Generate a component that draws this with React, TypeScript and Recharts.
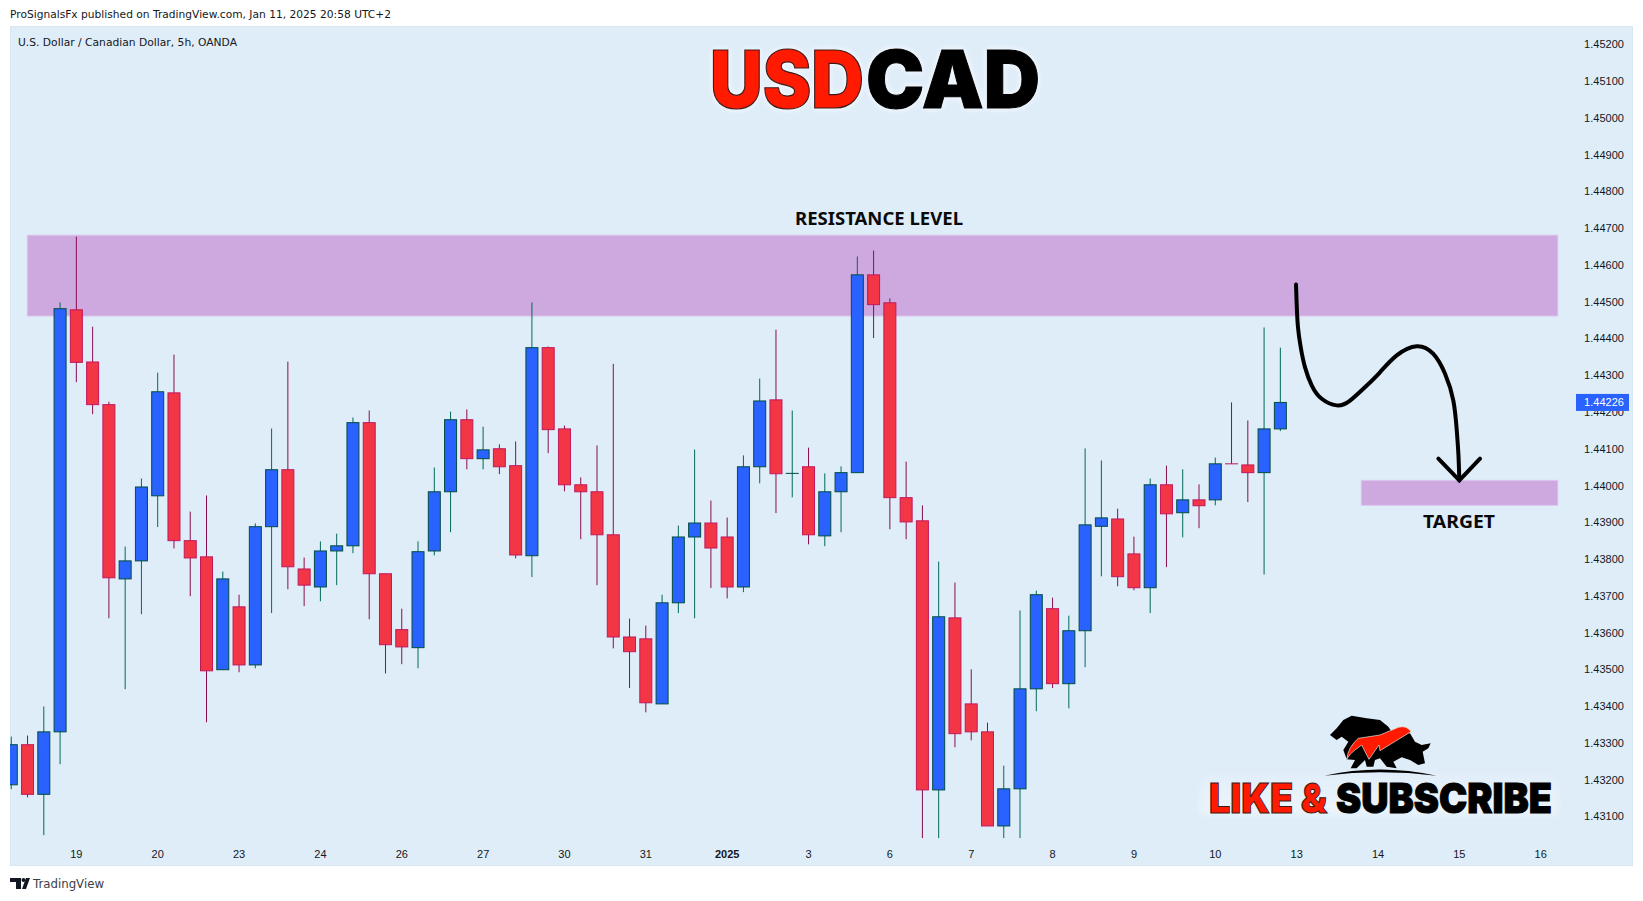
import React from 'react';
import { ComposedChart, Bar, Line, XAxis, YAxis, ReferenceArea } from 'recharts';

const opens = [
  1.43186, 1.43295, 1.4316, 1.4333, 1.44478, 1.44336, 1.4422, 1.43746, 1.43795, 1.43972,
  1.44252, 1.4385, 1.43806, 1.43499, 1.4367, 1.43512, 1.43888, 1.44043, 1.43773, 1.43724,
  1.43822, 1.43836, 1.44171, 1.4376, 1.43608, 1.43559, 1.43822, 1.43983, 1.44179, 1.44073,
  1.441, 1.44054, 1.43809, 1.44375, 1.44154, 1.44002, 1.43983, 1.43866, 1.43588, 1.43583,
  1.43406, 1.43681, 1.4386, 1.43898, 1.4386, 1.43724, 1.44051, 1.44233, 1.44032, 1.44051,
  1.43863, 1.43983, 1.44035, 1.44573, 1.44497, 1.43967, 1.43904, 1.43172, 1.4364, 1.43406,
  1.4333, 1.43074, 1.43175, 1.43447, 1.43665, 1.43461, 1.43605, 1.43889, 1.43909, 1.43814,
  1.43722, 1.44002, 1.43926, 1.43961, 1.43961, 1.44059, 1.44056, 1.44035, 1.44154,
];
const highs = [
  1.43317, 1.4332, 1.43399, 1.44498, 1.44677, 1.44432, 1.44228, 1.43834, 1.44019, 1.44307,
  1.44356, 1.43929, 1.43973, 1.43766, 1.43703, 1.43897, 1.44155, 1.44337, 1.43804, 1.43848,
  1.43869, 1.44185, 1.44204, 1.4376, 1.43665, 1.43848, 1.44049, 1.44201, 1.44207, 1.4416,
  1.44112, 1.4412, 1.44498, 1.44378, 1.44163, 1.44022, 1.44109, 1.44331, 1.43638, 1.43619,
  1.43703, 1.43891, 1.44098, 1.43959, 1.43913, 1.44082, 1.44291, 1.44424, 1.44204, 1.44103,
  1.44033, 1.44052, 1.44623, 1.44639, 1.44509, 1.44065, 1.43946, 1.43793, 1.43736, 1.435,
  1.43355, 1.43238, 1.4366, 1.43714, 1.43695, 1.43646, 1.44101, 1.44068, 1.43937, 1.43861,
  1.44019, 1.44054, 1.44044, 1.44003, 1.44076, 1.44226, 1.44177, 1.4443, 1.44375,
];
const lows = [
  1.43174, 1.43152, 1.43049, 1.43242, 1.44281, 1.44194, 1.43639, 1.43446, 1.4365, 1.43887,
  1.43829, 1.43699, 1.43356, 1.43499, 1.43492, 1.43503, 1.43653, 1.43718, 1.43672, 1.43685,
  1.43729, 1.43816, 1.43636, 1.43489, 1.43514, 1.43503, 1.4381, 1.43873, 1.44044, 1.44044,
  1.44031, 1.43802, 1.43751, 1.44088, 1.43984, 1.43854, 1.43729, 1.43557, 1.43449, 1.43383,
  1.43406, 1.43653, 1.43639, 1.43721, 1.43693, 1.4371, 1.44006, 1.43925, 1.43968, 1.4384,
  1.43835, 1.43873, 1.44035, 1.44401, 1.43881, 1.43854, 1.43041, 1.43041, 1.43288, 1.43307,
  1.43074, 1.43041, 1.43041, 1.43386, 1.43449, 1.43394, 1.43506, 1.43753, 1.43726, 1.43715,
  1.43653, 1.43778, 1.43859, 1.43884, 1.43946, 1.44059, 1.43955, 1.43758, 1.44148,
];
const closes = [
  1.43295, 1.4316, 1.4333, 1.44481, 1.44335, 1.4422, 1.43749, 1.43795, 1.43996, 1.44255,
  1.4385, 1.43803, 1.43496, 1.43746, 1.43512, 1.43888, 1.44043, 1.43779, 1.43729, 1.43822,
  1.43836, 1.44171, 1.4376, 1.43567, 1.43561, 1.4382, 1.43983, 1.44179, 1.44073, 1.44097,
  1.44051, 1.43811, 1.44375, 1.44152, 1.44002, 1.43983, 1.43866, 1.43588, 1.43548, 1.43409,
  1.43681, 1.4386, 1.43898, 1.4383, 1.43724, 1.44051, 1.4423, 1.44032, 1.44033, 1.43866,
  1.43983, 1.44035, 1.44573, 1.44492, 1.43967, 1.43901, 1.43172, 1.43643, 1.43325, 1.4333,
  1.43074, 1.43175, 1.43447, 1.43703, 1.43461, 1.43605, 1.43893, 1.43912, 1.43752, 1.43722,
  1.44002, 1.43923, 1.43961, 1.43945, 1.44059, 1.44059, 1.44035, 1.44154, 1.44226,
];

const lastPrice = 1.44226;
const priceTicks = [
  1.431, 1.432, 1.433, 1.434, 1.435, 1.436, 1.437, 1.438, 1.439, 1.44, 1.441,
  1.442, 1.443, 1.444, 1.445, 1.446, 1.447, 1.448, 1.449, 1.45, 1.451, 1.452, lastPrice,
];
const timeTicks = [4, 9, 14, 19, 24, 29, 34, 39, 44, 49, 54, 59, 64, 69, 74, 79, 84, 89, 94];
const timeLabels = ['19', '20', '23', '24', '26', '27', '30', '31', '2025', '3', '6', '7', '8', '9', '10', '13', '14', '15', '16'];

const resistanceZone = { from: 0.98, to: 95.05, top: 1.44681, bottom: 1.44461 };
const targetZone = { from: 82.97, to: 95.05, top: 1.44014, bottom: 1.43946 };

// hand drawn path
const sketchBars = [78.96, 79.0, 79.08, 79.25, 79.51, 79.93, 80.54, 81.46, 82.28, 83.31, 84.12, 85.15, 86.38, 87.4, 88.12, 88.63, 88.84, 88.94, 89.0];
const sketchPrices = [1.44547, 1.44494, 1.44431, 1.44376, 1.44322, 1.44272, 1.44236, 1.44218, 1.44231, 1.44272, 1.44308, 1.44354, 1.44379, 1.44358, 1.44304, 1.44231, 1.4415, 1.44086, 1.44014];
const headBars = [87.71, 89.0, 90.27];
const headPrices = [1.44073, 1.44014, 1.44073];

const candles = opens.map((open, i) => ({
  i,
  open,
  high: highs[i],
  low: lows[i],
  close: closes[i],
  range: [lows[i], highs[i]],
}));
const sketch = sketchBars.map((i, n) => ({ i, price: sketchPrices[n] }));
const arrowHead = headBars.map((i, n) => ({ i, price: headPrices[n] }));

const AXIS_FONT = '"Liberation Sans", Arial, sans-serif';
const BODY_WIDTH = 12;

const Candle = (props: any) => {
  const { x, y, width, height, payload } = props;
  const { open, close, high, low } = payload;
  const perUnit = height / (high - low);
  const up = close > open;
  const top = y + (high - Math.max(open, close)) * perUnit;
  const bottom = y + (high - Math.min(open, close)) * perUnit;
  const mid = x + width / 2;
  const wick = up ? '#00695c' : '#880e4f';
  const border = up ? '#004d40' : '#c2185b';
  const fill = up ? '#2962ff' : '#f23645';
  return (
    <g>
      <line x1={mid} x2={mid} y1={y} y2={y + height} stroke={wick} strokeWidth={1} />
      {bottom - top < 1 ? (
        <line x1={mid - 6.5} x2={mid + 6.5} y1={top} y2={top} stroke={border} strokeWidth={1} />
      ) : (
        <rect x={mid - BODY_WIDTH / 2} y={top} width={BODY_WIDTH} height={bottom - top} fill={fill} stroke={border} strokeWidth={1} />
      )}
    </g>
  );
};

const PriceTick = (props: any) => {
  const { x, y, payload } = props;
  const value = payload.value;
  if (value === lastPrice) {
    return (
      <g>
        <rect x={x - 2} y={y - 8.5} width={53} height={17} fill="#2962ff" />
        <text x={x + 26} y={y + 4} textAnchor="middle" fontFamily={AXIS_FONT} fontSize={11} fill="#ffffff">
          {value.toFixed(5)}
        </text>
      </g>
    );
  }
  return (
    <text x={x + 26} y={y + 4} textAnchor="middle" fontFamily={AXIS_FONT} fontSize={11} fill="#131722">
      {value.toFixed(5)}
    </text>
  );
};

const TimeTick = (props: any) => {
  const { x, y, payload } = props;
  const label = timeLabels[timeTicks.indexOf(payload.value)];
  return (
    <text
      x={x}
      y={y + 10}
      textAnchor="middle"
      fontFamily={AXIS_FONT}
      fontSize={11}
      fontWeight={label === '2025' ? 700 : 400}
      fill="#131722"
    >
      {label}
    </text>
  );
};

const Overlay = () => (
  <svg width={1643} height={901} style={{ position: 'absolute', left: 0, top: 0, pointerEvents: 'none' }}>
    <defs>
      <linearGradient id="logoGlow" x1="0" y1="0" x2="0" y2="1">
        <stop offset="0" stopColor="#ffffff" stopOpacity={0} />
        <stop offset="1" stopColor="#ffffff" stopOpacity={0.5} />
      </linearGradient>
    </defs>
    <text x={10} y={18} fontFamily='"DejaVu Sans", sans-serif' fontSize={11} fill="#131722" textLength={381} lengthAdjust="spacingAndGlyphs">
      ProSignalsFx published on TradingView.com, Jan 11, 2025 20:58 UTC+2
    </text>
    <text x={18} y={46} fontFamily='"DejaVu Sans", sans-serif' fontSize={10.5} fill="#131722" textLength={219} lengthAdjust="spacingAndGlyphs">
      U.S. Dollar / Canadian Dollar, 5h, OANDA
    </text>
    <g style={{ filter: 'drop-shadow(0 0 3px #ffffff)' }}>
      <text x={710} y={108} fontFamily='Inter, "Liberation Sans", sans-serif' fontWeight={900} fontSize={80} fill="#ff1a00" stroke="#3a1a1a" strokeWidth={1.2} textLength={154} lengthAdjust="spacingAndGlyphs">
        USD
      </text>
      <text x={866} y={108} fontFamily='Inter, "Liberation Sans", sans-serif' fontWeight={900} fontSize={80} fill="#000000" stroke="#000000" strokeWidth={1} textLength={174} lengthAdjust="spacingAndGlyphs">
        CAD
      </text>
    </g>
    <text x={795} y={225} fontFamily='"Noto Sans", sans-serif' fontWeight={700} fontSize={18} fill="#0a0a0a" textLength={168} lengthAdjust="spacingAndGlyphs">
      RESISTANCE LEVEL
    </text>
    <text x={1423} y={528} fontFamily='"Noto Sans", sans-serif' fontWeight={700} fontSize={18} fill="#0a0a0a" textLength={72} lengthAdjust="spacingAndGlyphs">
      TARGET
    </text>
    <rect x={1200} y={768} width={358} height={46} fill="url(#logoGlow)" style={{ filter: 'blur(4px)' }} />
    <g transform="translate(1180 700) scale(0.33333)">
      <path
        d="M450 105 L470 85 L490 60 L515 47 L560 55 L600 60 L625 80 L635 95 L690 100 L705 125 L725 135 L752 130 L745 145 L728 155 L735 190 L715 195 L690 180 L665 172 L640 185 L650 205 L620 200 L600 175 L585 180 L580 200 L560 200 L555 180 L530 205 L512 205 L525 180 L500 178 L490 150 L505 125 L485 110 L470 120 Z"
        fill="#000000"
      />
      <path d="M433 227 Q600 190 770 227 Q600 207 433 227 Z" fill="#000000" />
      <path
        d="M500 178 Q505 140 535 115 L600 105 L655 82 Q680 75 693 95 L600 152 L597 135 L567 178 L545 135 L525 150 Q510 160 500 178 Z"
        fill="#ff1a00"
        stroke="#e8e8e8"
        strokeWidth={2}
      />
    </g>
    <text x={1209} y={813} fontFamily='Inter, "Liberation Sans", sans-serif' fontWeight={900} fontSize={41} fill="#ff1a00" stroke="#3a1a1a" strokeWidth={1} textLength={118} lengthAdjust="spacingAndGlyphs">
      LIKE &amp;
    </text>
    <text x={1336} y={813} fontFamily='Inter, "Liberation Sans", sans-serif' fontWeight={900} fontSize={41} fill="#000000" stroke="#000000" strokeWidth={1} textLength={216} lengthAdjust="spacingAndGlyphs">
      SUBSCRIBE
    </text>
    <g fill="#131722">
      <path d="M10 878 H21 V889 H16 V882 H10 Z" />
      <circle cx={23.5} cy={880} r={2} />
      <path d="M22 889 L26 878 H30 L26 889 Z" />
    </g>
    <text x={33} y={888} fontFamily='"DejaVu Sans", sans-serif' fontSize={13} fill="#3a3e4a" textLength={71} lengthAdjust="spacingAndGlyphs">
      TradingView
    </text>
  </svg>
);

export default function App() {
  return (
    <div style={{ position: 'absolute', left: 0, top: 0, width: 1643, height: 901, background: '#ffffff', overflow: 'hidden' }}>
      <div style={{ position: 'absolute', left: 10, top: 26, width: 1623, height: 840, background: '#dfedf9', boxShadow: 'inset 0 0 0 1px #d9e7f3' }} />
      <div style={{ position: 'absolute', left: 0, top: 0 }}>
        <ComposedChart
          width={1643}
          height={901}
          data={candles}
          margin={{ top: 26, left: 10, right: 10, bottom: 35 }}
        >
          <XAxis
            dataKey="i"
            type="number"
            scale="linear"
            domain={[-0.08, 95.8]}
            allowDataOverflow
            ticks={timeTicks}
            interval={0}
            height={26}
            axisLine={false}
            tickLine={false}
            tick={<TimeTick />}
          />
          <YAxis
            orientation="right"
            type="number"
            domain={[1.430358, 1.452499]}
            allowDataOverflow
            ticks={priceTicks}
            interval={0}
            width={63}
            axisLine={false}
            tickLine={false}
            tick={<PriceTick />}
          />
          <ReferenceArea
            x1={resistanceZone.from}
            x2={resistanceZone.to}
            y1={resistanceZone.bottom}
            y2={resistanceZone.top}
            fill="#cda9df"
            fillOpacity={1}
            stroke="#dcc4ee"
          />
          <ReferenceArea
            x1={targetZone.from}
            x2={targetZone.to}
            y1={targetZone.bottom}
            y2={targetZone.top}
            fill="#cda9df"
            fillOpacity={1}
            stroke="#dcc4ee"
          />
          <Bar dataKey="range" barSize={13} shape={<Candle />} isAnimationActive={false} />
          <Line
            data={sketch}
            dataKey="price"
            type="natural"
            stroke="#000000"
            strokeWidth={4}
            strokeLinecap="round"
            dot={false}
            activeDot={false}
            isAnimationActive={false}
          />
          <Line
            data={arrowHead}
            dataKey="price"
            type="linear"
            stroke="#000000"
            strokeWidth={4}
            strokeLinecap="round"
            dot={false}
            activeDot={false}
            isAnimationActive={false}
          />
        </ComposedChart>
      </div>
      <Overlay />
    </div>
  );
}
